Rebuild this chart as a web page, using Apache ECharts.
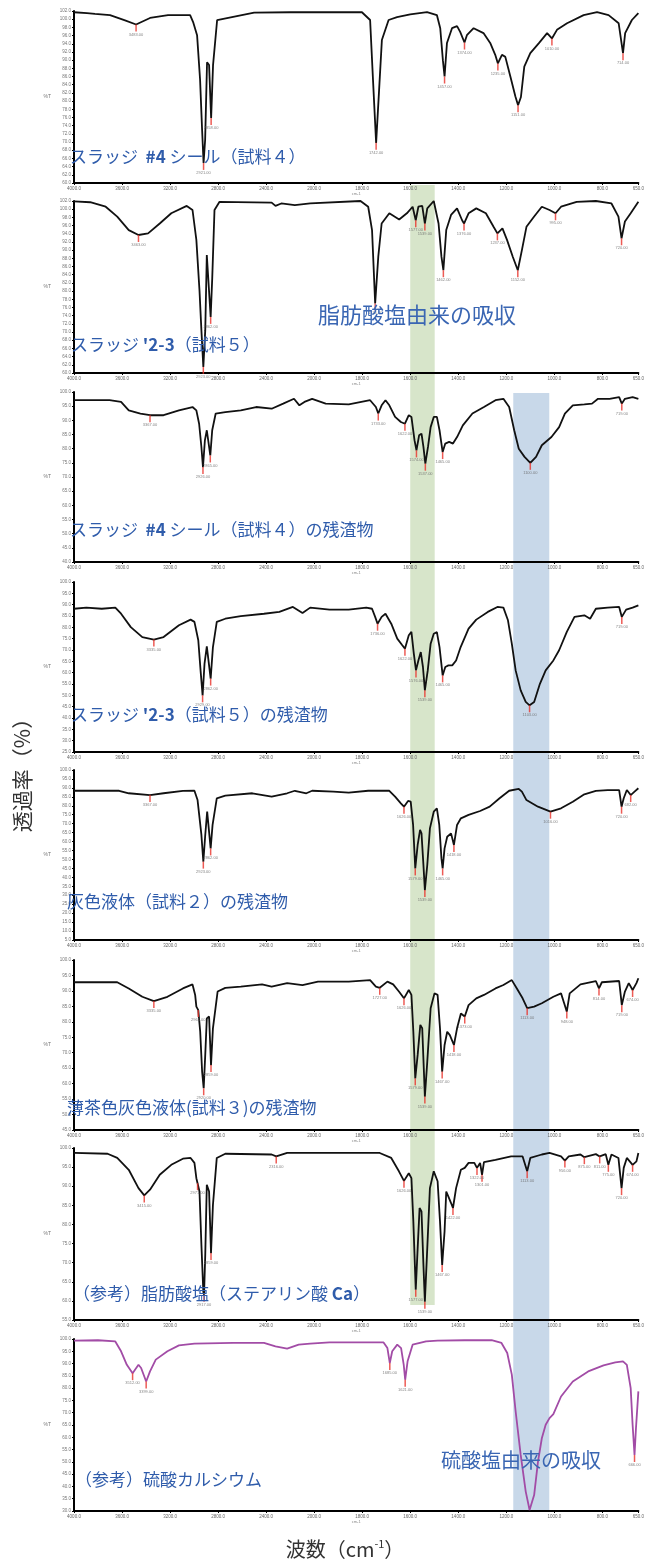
<!DOCTYPE html>
<html>
<head>
<meta charset="utf-8">
<script src="https://cdn.jsdelivr.net/npm/echarts@6/dist/echarts.min.js"></script>
<style>
    html, body { margin: 0; padding: 0; background: #fff; }
    #chart { width: 647px; height: 1565px; }
</style>
</head>
<body>
<div id="chart"></div>
<script>
// Спектры: [волновое число, %T]
const spec1 = [[4000,101.7],[3892,101.5],[3825,101.3],[3700,101.0],[3575,99.7],[3483,98.7],[3367,100.3],[3217,101.0],[3033,101.0],[3008,99.3],[2975,96.1],[2950,85.2],[2933,72.9],[2921,64.9],[2908,70.5],[2892,89.5],[2875,88.8],[2858,75.9],[2842,88.8],[2808,99.8],[2500,101.6],[2200,101.7],[1801,101.7],[1767,99.8],[1755,85.2],[1742,69.8],[1728,84.4],[1718,94.9],[1690,99.8],[1655,100.5],[1600,101.2],[1530,101.7],[1489,101.0],[1475,97.8],[1464,90.0],[1457,86.0],[1447,94.2],[1426,97.8],[1405,98.3],[1392,96.9],[1374,94.3],[1364,96.1],[1336,97.8],[1295,96.6],[1267,94.2],[1246,91.3],[1235,89.2],[1218,91.3],[1204,90.8],[1183,86.0],[1162,81.1],[1151,79.0],[1139,81.0],[1125,88.4],[1100,91.7],[1065,94.1],[1030,96.6],[1010,95.3],[989,97.4],[947,99.0],[878,101.0],[822,101.7],[774,101.0],[732,99.0],[714,91.7],[705,96.6],[677,99.8],[650,101.5]];
const peaks1 = [3483, 2921, 2858, 1742, 1457, 1374, 1235, 1151, 1010, 714];

const spec2 = [[4000,101.9],[3865,101.7],[3736,100.6],[3640,98.2],[3544,94.9],[3463,93.7],[3383,94.1],[3286,96.5],[3190,99.0],[3061,100.8],[3013,99.8],[2981,92.5],[2955,80.2],[2939,70.4],[2923,61.5],[2907,70.4],[2894,88.8],[2881,88.4],[2862,73.7],[2849,83.0],[2830,99.8],[2788,101.8],[2354,101.6],[2322,100.8],[2274,101.4],[2161,101.0],[2033,101.4],[1807,102.0],[1775,100.6],[1759,94.9],[1746,77.0],[1733,88.4],[1719,96.5],[1687,99.0],[1646,97.5],[1614,99.0],[1590,100.6],[1577,97.3],[1566,100.6],[1550,100.8],[1539,96.5],[1529,100.2],[1502,102.0],[1482,96.5],[1470,88.4],[1462,85.1],[1450,94.9],[1430,98.6],[1405,100.2],[1384,97.3],[1376,96.5],[1357,99.0],[1325,100.2],[1285,99.0],[1253,95.7],[1237,94.1],[1216,95.3],[1197,92.5],[1173,88.4],[1152,85.1],[1135,90.0],[1116,95.7],[1084,98.2],[1052,100.6],[1020,99.8],[995,99.0],[972,100.6],[907,101.8],[827,102.0],[762,101.4],[733,98.2],[720,92.9],[706,97.0],[682,99.0],[650,101.8]];
const peaks2 = [3463, 2923, 2862, 1746, 1577, 1539, 1462, 1376, 1237, 1152, 995, 720];

const spec3 = [[4000,97.1],[3704,97.1],[3608,96.5],[3544,93.5],[3447,92.4],[3367,91.8],[3254,91.8],[3126,93.5],[3013,94.7],[2981,93.5],[2958,88.8],[2939,80.6],[2926,73.5],[2910,82.9],[2894,86.5],[2878,86.7],[2865,77.6],[2849,86.5],[2820,92.4],[2740,92.9],[2611,93.5],[2483,94.7],[2354,94.1],[2258,95.9],[2168,97.6],[2123,95.3],[2081,96.5],[2017,97.6],[1952,95.9],[1856,95.6],[1767,97.1],[1743,94.7],[1733,92.4],[1719,95.3],[1703,97.1],[1687,95.3],[1663,91.2],[1639,89.4],[1622,88.8],[1606,91.8],[1595,91.2],[1582,82.9],[1574,79.4],[1563,84.7],[1553,85.3],[1545,80.6],[1537,74.7],[1526,80.6],[1515,87.6],[1502,91.2],[1489,91.2],[1478,86.5],[1465,78.8],[1454,81.8],[1438,82.4],[1422,81.8],[1405,84.1],[1381,88.2],[1341,92.4],[1293,94.7],[1245,97.1],[1212,97.6],[1188,94.7],[1167,86.5],[1148,80.0],[1124,77.1],[1100,75.0],[1076,77.1],[1052,81.2],[1012,84.1],[980,87.6],[956,92.4],[923,95.3],[875,95.6],[843,95.9],[818,97.6],[770,97.6],[730,98.2],[719,95.9],[706,97.6],[674,98.2],[650,97.6]];
const peaks3 = [3367, 2926, 2865, 1733, 1622, 1574, 1537, 1465, 1100, 719];

const spec4 = [[4000,88.2],[3897,88.7],[3769,88.2],[3656,88.7],[3608,86.0],[3527,80.1],[3431,75.7],[3335,74.6],[3254,75.7],[3126,80.9],[3029,83.4],[2997,82.4],[2965,74.3],[2946,61.0],[2929,50.0],[2913,64.0],[2894,71.6],[2878,71.3],[2862,57.4],[2843,71.3],[2811,82.4],[2740,83.8],[2611,84.9],[2418,86.0],[2290,86.8],[2177,89.0],[2097,86.3],[2033,88.7],[1936,87.8],[1856,87.8],[1783,88.7],[1759,88.2],[1746,84.6],[1736,81.6],[1719,84.6],[1703,86.0],[1679,81.6],[1654,75.0],[1633,72.1],[1622,70.6],[1606,76.5],[1595,78.0],[1585,68.4],[1576,61.0],[1566,65.4],[1556,69.1],[1547,62.5],[1539,52.2],[1527,61.0],[1515,72.8],[1502,77.2],[1489,77.9],[1478,71.3],[1465,58.8],[1454,62.5],[1441,63.2],[1425,63.2],[1409,65.4],[1390,71.3],[1357,79.4],[1325,83.4],[1277,86.8],[1237,89.0],[1212,88.7],[1193,83.1],[1177,72.8],[1161,61.0],[1140,52.2],[1119,47.1],[1103,45.6],[1084,47.1],[1060,55.1],[1036,61.0],[1004,65.4],[980,69.9],[948,78.0],[916,84.6],[875,85.3],[851,83.8],[827,88.2],[778,88.7],[730,89.0],[719,84.6],[701,87.8],[674,88.7],[650,89.7]];
const peaks4 = [3335, 2929, 2862, 1736, 1622, 1576, 1539, 1465, 1103, 719];

const spec5 = [[4000,88.4],[3624,88.4],[3544,87.0],[3367,86.0],[3254,87.0],[3093,88.3],[2997,88.4],[2971,83.2],[2955,82.3],[2939,63.7],[2923,48.8],[2907,63.7],[2891,76.7],[2878,76.7],[2862,56.2],[2846,69.3],[2811,84.2],[2740,85.7],[2515,87.0],[2354,85.1],[2225,87.0],[2161,88.4],[2065,87.0],[2017,88.4],[1920,87.9],[1856,87.3],[1775,88.4],[1687,88.4],[1663,85.1],[1639,81.4],[1626,79.5],[1609,82.7],[1598,82.3],[1588,69.3],[1579,45.0],[1569,58.1],[1559,66.5],[1553,64.6],[1545,46.9],[1539,32.9],[1529,46.9],[1518,67.4],[1502,76.7],[1489,78.6],[1479,69.3],[1470,50.6],[1465,45.0],[1457,56.2],[1446,62.7],[1430,64.6],[1418,58.1],[1405,69.3],[1389,73.0],[1357,74.9],[1309,77.1],[1269,79.5],[1228,84.2],[1188,88.4],[1148,89.4],[1135,87.9],[1116,83.2],[1068,79.5],[1016,76.7],[972,78.6],[923,82.3],[875,86.4],[827,88.3],[778,88.8],[730,88.8],[720,79.5],[711,84.2],[698,88.8],[682,86.0],[666,87.9],[650,89.8]];
const peaks5 = [3367, 2923, 2862, 1626, 1579, 1539, 1465, 1418, 1016, 720, 682];

const spec6 = [[4000,92.8],[3640,92.8],[3544,90.8],[3431,88.1],[3335,86.7],[3222,88.1],[3093,90.8],[3013,92.1],[2991,88.7],[2981,84.9],[2965,83.8],[2949,76.8],[2933,63.9],[2920,58.5],[2907,69.3],[2894,81.1],[2875,81.7],[2859,66.0],[2843,77.9],[2804,89.8],[2740,91.0],[2611,91.4],[2434,92.1],[2354,91.4],[2225,92.5],[2097,91.9],[1984,93.0],[1856,93.0],[1767,93.5],[1743,91.4],[1727,91.0],[1695,93.0],[1671,92.1],[1647,89.8],[1626,87.6],[1606,90.3],[1595,88.7],[1587,76.8],[1579,61.7],[1569,69.3],[1558,79.0],[1550,77.9],[1543,63.9],[1539,55.8],[1529,67.1],[1515,84.4],[1499,89.2],[1486,88.7],[1476,77.9],[1467,63.9],[1457,72.5],[1446,76.8],[1435,75.7],[1418,72.5],[1405,77.9],[1389,82.7],[1373,81.7],[1357,85.4],[1325,87.6],[1293,88.7],[1245,90.8],[1212,91.9],[1177,93.5],[1156,90.8],[1132,87.6],[1113,84.4],[1084,84.9],[1052,86.0],[1004,88.1],[972,89.2],[959,86.0],[948,83.3],[936,89.2],[891,92.1],[827,93.2],[814,90.8],[802,92.8],[730,93.2],[719,85.4],[706,89.8],[690,92.5],[674,90.3],[658,92.5],[650,94.1]];
const peaks6 = [3335, 2965, 2920, 2859, 1727, 1626, 1579, 1539, 1467, 1418, 1373, 1113, 948, 814, 719, 674];

const spec7 = [[4000,98.7],[3720,98.5],[3640,97.4],[3544,94.3],[3463,89.5],[3415,87.6],[3367,89.1],[3286,93.0],[3190,95.6],[3093,97.2],[3029,97.4],[2997,96.1],[2981,92.1],[2971,90.8],[2955,88.6],[2939,74.7],[2923,62.4],[2917,61.6],[2907,72.0],[2894,90.4],[2875,88.6],[2859,72.5],[2843,85.1],[2811,97.4],[2740,98.5],[2354,98.3],[2316,97.8],[2225,98.7],[2033,98.7],[1727,98.7],[1679,97.4],[1647,93.9],[1626,91.4],[1606,93.4],[1595,92.1],[1587,80.8],[1577,62.9],[1569,73.8],[1561,84.3],[1553,83.4],[1545,69.4],[1539,59.8],[1529,73.8],[1518,89.5],[1502,93.9],[1486,91.3],[1476,80.8],[1467,69.4],[1457,78.2],[1450,88.6],[1441,87.3],[1430,85.6],[1422,84.3],[1409,89.5],[1389,94.3],[1373,94.8],[1357,96.1],[1333,96.1],[1322,94.8],[1309,96.1],[1301,93.0],[1293,96.3],[1245,96.9],[1180,97.8],[1132,97.8],[1113,93.9],[1100,97.4],[1052,98.3],[1020,98.7],[972,97.8],[956,96.7],[940,97.8],[891,98.3],[875,97.6],[827,98.4],[811,97.8],[786,98.4],[775,95.6],[762,98.3],[733,97.4],[720,89.5],[711,94.8],[698,97.4],[674,95.6],[658,96.5],[650,98.7]];
const peaks7 = [3415, 2971, 2917, 2859, 2316, 1626, 1577, 1539, 1467, 1422, 1322, 1301, 1113, 956, 875, 811, 775, 720, 674];

const spec8 = [[4000,99.3],[3800,99.5],[3656,99.0],[3608,95.0],[3560,89.5],[3512,86.1],[3463,89.5],[3441,88.2],[3399,82.7],[3367,86.8],[3319,91.6],[3222,95.0],[3126,97.4],[2997,98.1],[2675,98.4],[2418,98.4],[2322,97.0],[2225,96.1],[2129,97.7],[2033,98.1],[1936,98.6],[1711,98.6],[1695,96.3],[1685,90.2],[1675,95.0],[1654,97.7],[1638,96.3],[1627,89.5],[1621,83.4],[1611,90.9],[1590,97.7],[1534,99.0],[1486,99.3],[1373,99.5],[1261,99.5],[1220,98.4],[1196,94.3],[1177,85.5],[1161,70.5],[1140,52.8],[1119,37.9],[1103,30.4],[1097,30.1],[1084,36.5],[1068,50.1],[1052,59.6],[1036,65.1],[1020,67.8],[1004,69.4],[972,76.6],[923,82.7],[859,86.8],[795,89.3],[746,90.5],[714,90.9],[698,89.5],[682,80.0],[674,65.1],[666,52.8],[660,63.7],[650,78.7]];
const peaks8 = [3512, 3399, 1685, 1621, 666];

// Подписи панелей ({b|...} — жирный фрагмент)
const captions = [
    'スラッジ  {b|#4} シール（試料４）',
    "スラッジ {b|'2-3}（試料５）",
    'スラッジ  {b|#4} シール（試料４）の残渣物',
    "スラッジ {b|'2-3}（試料５）の残渣物",
    '灰色液体（試料２）の残渣物',
    '薄茶色灰色液体(試料３)の残渣物',
    '（参考）脂肪酸塩（ステアリン酸 {b|Ca}）',
    '（参考）硫酸カルシウム'
];

// Диапазоны оси Y: [min, max, шаг]
const yRanges = [[60,102,2],[60,102,2],[40,100,5],[25,100,5],[5,100,5],[45,100,5],[55,100,5],[30,100,5]];

// Полосы поглощения (см-1)
const greenBand = [1600, 1498];
const blueBand = [1171, 1021];
const greenLabel = '脂肪酸塩由来の吸収';
const blueLabel = '硫酸塩由来の吸収';

// Раскладка
const FONT = '"Noto Sans CJK JP", "Noto Sans", sans-serif';
const gridTops = [11, 201, 392, 582, 770, 960, 1148, 1339];
const gridHeights = [172, 172, 170, 170, 170, 170, 172, 172];
const captionPos = [[70,157],[71,345],[70,530],[71,715],[67,902],[67,1108],[73,1294],[75,1480]];
const lineColors = ['#111','#111','#111','#111','#111','#111','#111','#a24ca6'];
const CAPTION_COLOR = '#2f5cab';

// Шкала прибора: ниже 2000 см-1 масштаб вдвое крупнее
function wnToU(wn) {
    return wn >= 2000 ? 4000 - wn : 2000 + 2 * (2000 - wn);
}
function uToWn(u) {
    return u <= 2000 ? 4000 - u : 2000 - (u - 2000) / 2;
}

const spectra = [spec1, spec2, spec3, spec4, spec5, spec6, spec7, spec8];
const peaks = [peaks1, peaks2, peaks3, peaks4, peaks5, peaks6, peaks7, peaks8];

const chart = echarts.init(document.getElementById('chart'));

const grids = [], xAxes = [], yAxes = [], series = [];
spectra.forEach((spec, i) => {
    grids.push({ left: 74, right: 7, top: gridTops[i], height: gridHeights[i] });
    xAxes.push({
        gridIndex: i,
        type: 'value',
        min: 0,
        max: 4700,
        interval: 400,
        name: 'cm-1',
        nameLocation: 'middle',
        nameGap: 9,
        nameTextStyle: { fontSize: 4, color: '#888' },
        axisLine: { lineStyle: { color: '#000', width: 2 } },
        axisTick: { length: 2, lineStyle: { color: '#000' } },
        axisLabel: { fontSize: 4.5, color: '#666', margin: 3, formatter: v => uToWn(v).toFixed(1) },
        splitLine: { show: false }
    });
    yAxes.push({
        gridIndex: i,
        type: 'value',
        min: yRanges[i][0],
        max: yRanges[i][1],
        interval: yRanges[i][2],
        name: '%T',
        nameLocation: 'middle',
        nameGap: 23,
        nameRotate: 0,
        nameTextStyle: { fontSize: 5, color: '#777' },
        axisLine: { show: true, lineStyle: { color: '#000', width: 2 } },
        axisTick: { show: true, length: 2, lineStyle: { color: '#000' } },
        axisLabel: { fontSize: 4.5, color: '#777', margin: 3, formatter: v => v.toFixed(1) },
        splitLine: { show: false }
    });
    series.push({
        type: 'line',
        xAxisIndex: i,
        yAxisIndex: i,
        data: spec.map(p => [wnToU(p[0]), p[1]]),
        showSymbol: false,
        symbol: 'none',
        lineStyle: { color: lineColors[i], width: 1.8 },
        z: 3
    });
    series.push({
        type: 'scatter',
        xAxisIndex: i,
        yAxisIndex: i,
        data: peaks[i].map(wn => {
            const p = spec.find(q => q[0] === wn);
            return [wnToU(wn), p[1]];
        }),
        symbol: 'rect',
        symbolSize: [1.5, 7],
        symbolOffset: [0, 3.5],
        itemStyle: { color: '#e8322a' },
        label: {
            show: true,
            position: 'bottom',
            distance: 1,
            fontSize: 4,
            color: '#666',
            formatter: pr => uToWn(pr.value[0]).toFixed(2)
        },
        silent: true,
        z: 4
    });
});

chart.setOption({
    animation: false,
    grid: grids,
    xAxis: xAxes,
    yAxis: yAxes,
    series: series
});

// Полосы и подписи (позиции полос берутся из оси)
const px = wn => chart.convertToPixel({ xAxisIndex: 0 }, wnToU(wn));
const bandRect = (band, y0, y1, color) => {
    const x0 = px(band[0]), x1 = px(band[1]);
    return { type: 'rect', z: 0, silent: true, shape: { x: x0, y: y0, width: x1 - x0, height: y1 - y0 }, style: { fill: color } };
};

const graphics = [
    bandRect(greenBand, 185, 1305, 'rgba(198,218,180,0.7)'),
    bandRect(blueBand, 393, 1512, 'rgba(176,200,224,0.7)')
];
captions.forEach((text, i) => {
    graphics.push({
        type: 'text', z: 10, silent: true,
        style: {
            text: text, x: captionPos[i][0], y: captionPos[i][1],
            fill: CAPTION_COLOR, font: '17px ' + FONT,
            textAlign: 'left', textVerticalAlign: 'middle',
            rich: { b: { fontSize: 17, fontFamily: FONT, fontWeight: 'bold', fill: CAPTION_COLOR } }
        }
    });
});
graphics.push({
    type: 'text', z: 10, silent: true,
    style: { text: greenLabel, x: 318, y: 315, fill: '#3a66b3', font: '22px ' + FONT, textAlign: 'left', textVerticalAlign: 'middle' }
});
graphics.push({
    type: 'text', z: 10, silent: true,
    style: { text: blueLabel, x: 441, y: 1460, fill: '#3a66b3', font: '20px ' + FONT, textAlign: 'left', textVerticalAlign: 'middle' }
});
// Заголовки осей
graphics.push({
    type: 'text', z: 10, silent: true,
    x: 22, y: 770, rotation: Math.PI / 2,
    style: { text: '透過率（%）', x: 0, y: 0, fill: '#333', font: '21px ' + FONT, textAlign: 'center', textVerticalAlign: 'middle' }
});
graphics.push({
    type: 'text', z: 10, silent: true,
    style: {
        text: '波数（cm{sup|-1}）', x: 345, y: 1549,
        fill: '#333', font: '20px ' + FONT, textAlign: 'center', textVerticalAlign: 'middle',
        rich: { sup: { fontSize: 11, fontFamily: FONT, fill: '#333', padding: [0, 0, 10, 0] } }
    }
});

chart.setOption({ graphic: graphics });
</script>
</body>
</html>
